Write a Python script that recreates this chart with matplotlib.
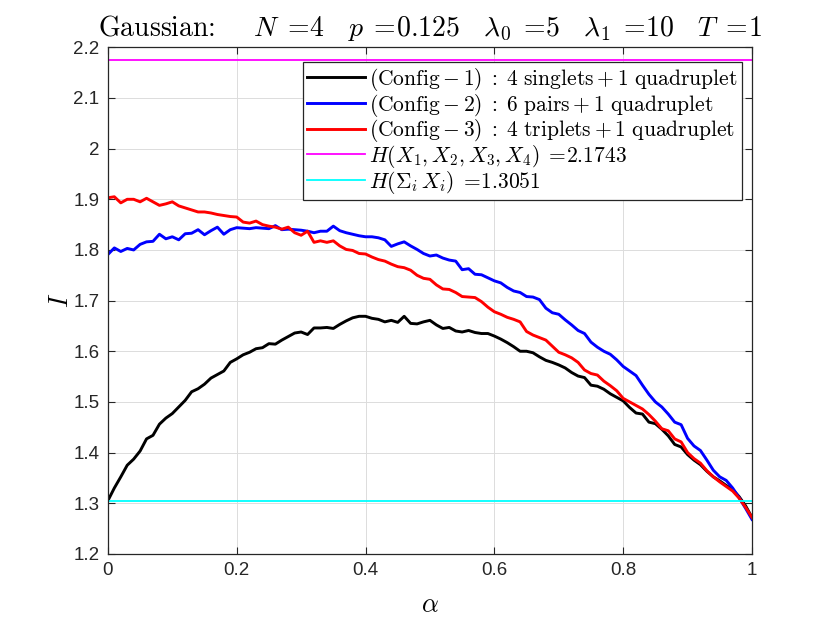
import numpy as np
import matplotlib
matplotlib.use("Agg")
import matplotlib.pyplot as plt

plt.rcParams['mathtext.fontset'] = 'cm'
plt.rcParams['font.family'] = ['Liberation Sans', 'DejaVu Sans']

# alpha grid, step 0.01
alpha = np.linspace(0, 1, 101)

# (Config - 1): 4 singlets + 1 quadruplet
config1 = [1.305, 1.330, 1.352, 1.375, 1.387, 1.403, 1.427, 1.434, 1.456, 1.468,
           1.477, 1.490, 1.503, 1.520, 1.526, 1.535, 1.547, 1.554, 1.561, 1.578,
           1.585, 1.593, 1.598, 1.605, 1.607, 1.615, 1.614, 1.622, 1.629, 1.636,
           1.638, 1.633, 1.646, 1.646, 1.647, 1.645, 1.653, 1.660, 1.666, 1.669,
           1.669, 1.665, 1.663, 1.658, 1.661, 1.657, 1.669, 1.655, 1.654, 1.658,
           1.661, 1.652, 1.645, 1.647, 1.640, 1.638, 1.641, 1.637, 1.635, 1.635,
           1.630, 1.624, 1.617, 1.609, 1.600, 1.600, 1.597, 1.589, 1.582, 1.578,
           1.573, 1.567, 1.558, 1.551, 1.548, 1.533, 1.531, 1.525, 1.516, 1.509,
           1.502, 1.489, 1.478, 1.476, 1.460, 1.457, 1.446, 1.433, 1.416, 1.411,
           1.396, 1.385, 1.376, 1.363, 1.352, 1.344, 1.335, 1.327, 1.313, 1.295,
           1.272]

# (Config - 2): 6 pairs + 1 quadruplet
config2 = [1.791, 1.804, 1.797, 1.803, 1.800, 1.811, 1.816, 1.817, 1.831, 1.822,
           1.826, 1.820, 1.832, 1.833, 1.840, 1.830, 1.838, 1.845, 1.831, 1.840,
           1.844, 1.843, 1.842, 1.844, 1.843, 1.842, 1.848, 1.840, 1.841, 1.840,
           1.839, 1.837, 1.834, 1.837, 1.837, 1.847, 1.838, 1.834, 1.831, 1.828,
           1.826, 1.826, 1.824, 1.820, 1.807, 1.812, 1.816, 1.808, 1.801, 1.793,
           1.788, 1.790, 1.784, 1.780, 1.778, 1.761, 1.763, 1.752, 1.751, 1.745,
           1.739, 1.735, 1.726, 1.719, 1.716, 1.708, 1.707, 1.702, 1.685, 1.676,
           1.673, 1.662, 1.652, 1.641, 1.635, 1.618, 1.608, 1.600, 1.594, 1.583,
           1.570, 1.561, 1.552, 1.533, 1.515, 1.500, 1.490, 1.476, 1.460, 1.455,
           1.428, 1.413, 1.404, 1.385, 1.365, 1.352, 1.345, 1.330, 1.311, 1.290,
           1.268]

# (Config - 3): 4 triplets + 1 quadruplet
config3 = [1.903, 1.905, 1.893, 1.900, 1.900, 1.895, 1.902, 1.895, 1.888, 1.891,
           1.895, 1.887, 1.883, 1.879, 1.875, 1.875, 1.873, 1.870, 1.868, 1.866,
           1.865, 1.855, 1.853, 1.857, 1.850, 1.847, 1.845, 1.841, 1.845, 1.834,
           1.829, 1.837, 1.815, 1.818, 1.815, 1.818, 1.808, 1.801, 1.799, 1.793,
           1.792, 1.786, 1.781, 1.778, 1.772, 1.767, 1.765, 1.760, 1.750, 1.744,
           1.742, 1.731, 1.723, 1.722, 1.716, 1.708, 1.707, 1.706, 1.698, 1.687,
           1.678, 1.673, 1.667, 1.663, 1.658, 1.639, 1.632, 1.627, 1.622, 1.610,
           1.598, 1.593, 1.587, 1.578, 1.563, 1.556, 1.553, 1.541, 1.532, 1.522,
           1.507, 1.500, 1.493, 1.486, 1.475, 1.462, 1.447, 1.443, 1.427, 1.421,
           1.400, 1.388, 1.379, 1.364, 1.352, 1.342, 1.333, 1.324, 1.310, 1.292,
           1.272]

H_joint = 2.1743
H_sum = 1.3051

labels = [r'$(\mathrm{Config}-1)\;:\;4\ \mathrm{singlets}+1\ \mathrm{quadruplet}$',
          r'$(\mathrm{Config}-2)\;:\;6\ \mathrm{pairs}+1\ \mathrm{quadruplet}$',
          r'$(\mathrm{Config}-3)\;:\;4\ \mathrm{triplets}+1\ \mathrm{quadruplet}$',
          r'$H(X_1,X_2,X_3,X_4)\;=\!$%.4f' % H_joint,
          r'$H(\Sigma_i\, X_i)\;=\!$%.4f' % H_sum]

fig = plt.figure(figsize=(8.3, 6.23), dpi=100)
ax = fig.add_axes([0.130, 0.111, 0.776, 0.813])

ax.plot(alpha, config1, color='black', lw=2.1, label=labels[0])
ax.plot(alpha, config2, color='blue', lw=2.1, label=labels[1])
ax.plot(alpha, config3, color='red', lw=2.1, label=labels[2])
ax.axhline(H_joint, color='magenta', lw=1.3, label=labels[3])
ax.axhline(H_sum, color='cyan', lw=1.3, label=labels[4])

ax.set_xlim(0, 1)
ax.set_ylim(1.2, 2.2)
ax.set_xticks(np.arange(0, 1.01, 0.2))
ax.set_xticklabels(['0', '0.2', '0.4', '0.6', '0.8', '1'])
ax.set_yticks(np.arange(1.2, 2.21, 0.1))
ax.set_yticklabels(['1.2', '1.3', '1.4', '1.5', '1.6', '1.7', '1.8', '1.9', '2', '2.1', '2.2'])
ax.grid(True, color='#dcdcdc', lw=0.7)
ax.set_axisbelow(True)
ax.tick_params(direction='in', top=True, right=True, labelsize=13.5,
               colors='#262626', length=5, width=0.8, pad=6)
for s in ax.spines.values():
    s.set_color('#262626')
    s.set_linewidth(0.9)

ax.set_xlabel(r'$\alpha$', fontsize=19, labelpad=10)
ax.set_ylabel(r'$I$', fontsize=19, labelpad=0)
ax.set_title(r'Gaussian:$\quad\;\;N\;=\!$4$\quad p\;=\!$0.125$\quad \lambda_0\;=\!$5$\quad '
             r'\lambda_1\;=\!$10$\quad T\;=\!$1', fontsize=20, pad=8,
             fontfamily='cmr10')

leg = ax.legend(loc='upper right', bbox_to_anchor=(0.9845, 0.972), borderaxespad=0,
                fancybox=False, framealpha=1, edgecolor='#262626',
                handlelength=2.7, handletextpad=0.2, labelspacing=-0.06,
                borderpad=0.2, prop={'family': 'cmr10', 'size': 15.5})
leg.get_frame().set_linewidth(0.9)

fig.savefig('out.png', dpi=100)
